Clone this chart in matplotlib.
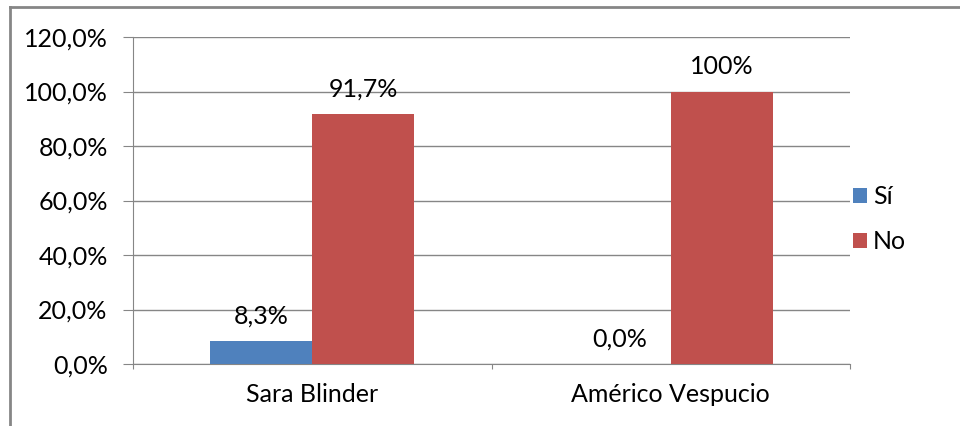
import matplotlib
matplotlib.use("Agg")
import matplotlib.pyplot as plt
from matplotlib.lines import Line2D
import numpy as np

categories = ["Sara Blinder", "Américo Vespucio"]
si = [8.3, 0.0]
no = [91.7, 100.0]
si_labels = ["8,3%", "0,0%"]
no_labels = ["91,7%", "100%"]
yticks = [0, 20, 40, 60, 80, 100, 120]

plt.rcParams['font.family'] = ['Lato', 'DejaVu Sans']
fs = 18
fig = plt.figure(figsize=(9.6, 4.26), dpi=100)
ax = fig.add_axes([133/960, 62/426, (850-133)/960, (364-37)/426])

x = np.arange(len(categories))
w = 0.285
b1 = ax.bar(x - w/2, si, w, color="#4F81BD", label="Sí", zorder=3)
b2 = ax.bar(x + w/2, no, w, color="#C0504D", label="No", zorder=3)

for rect, txt in zip(b1, si_labels):
    ax.annotate(txt, (rect.get_x() + rect.get_width()/2, rect.get_height()),
                xytext=(0, 10), textcoords="offset points", ha="center", va="bottom", fontsize=fs)
for rect, txt in zip(b2, no_labels):
    ax.annotate(txt, (rect.get_x() + rect.get_width()/2, rect.get_height()),
                xytext=(0, 10), textcoords="offset points", ha="center", va="bottom", fontsize=fs)

ax.set_ylim(0, 120)
ax.set_xlim(-0.5, 1.5)
ax.set_yticks(yticks)
ax.set_yticklabels([f"{v},0%" for v in yticks], fontsize=fs)
ax.yaxis.grid(True, color="#868686", linewidth=1, zorder=0)

ax.set_xticks([-0.5, 0.5, 1.5])
ax.set_xticklabels([])
ax.set_xticks(x, minor=True)
ax.set_xticklabels(categories, minor=True, fontsize=fs)
ax.tick_params(axis="x", which="minor", length=0, pad=14)
ax.tick_params(axis="x", which="major", length=3.6, color="#868686")
ax.tick_params(axis="y", length=7.2, color="#868686", pad=11)

for s in ["top", "right"]:
    ax.spines[s].set_visible(False)
for s in ["left", "bottom"]:
    ax.spines[s].set_color("#868686")

ax.legend(loc="center left", bbox_to_anchor=(0.004, 0.443), bbox_transform=ax.transAxes,
          frameon=False, fontsize=fs, borderaxespad=0, borderpad=0,
          handlelength=0.55, handleheight=0.55, handletextpad=0.25, labelspacing=0.9)
ax.get_legend().set_bbox_to_anchor((1.004, 0.443), transform=ax.transAxes)

# outer chart frame
fig.add_artist(Line2D([10/960, 1], [1-7/426, 1-7/426], color="#868686", linewidth=2, transform=fig.transFigure))
fig.add_artist(Line2D([10/960, 10/960], [0, 1-7/426], color="#868686", linewidth=2, transform=fig.transFigure))

fig.savefig("out.png", dpi=100)
